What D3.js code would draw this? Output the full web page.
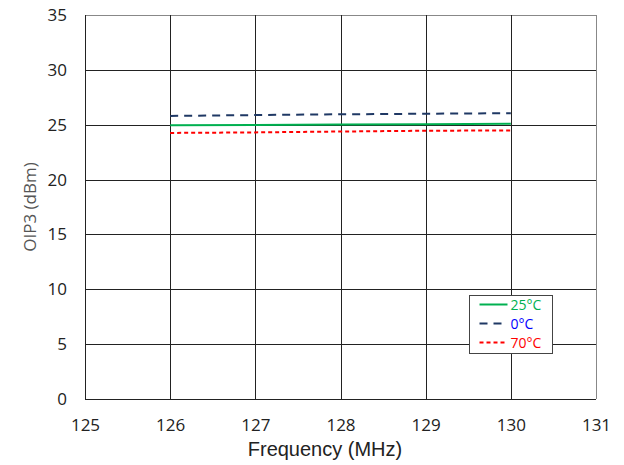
<!DOCTYPE html>
<html>
<head>
<meta charset="utf-8">
<script src="https://cdn.jsdelivr.net/npm/d3@7"></script>
<style>
  body { margin: 0; background: #fff; }
  text { font-family: "Open Sans", "Liberation Sans", sans-serif; }
</style>
</head>
<body>
<svg id="chart" width="624" height="465"></svg>
<script>
// data
const freqs = [126, 127, 128, 129, 130];
const oip3_25 = [24.95, 24.98, 25.02, 25.05, 25.08];
const oip3_0 = [25.8, 25.88, 25.95, 26.0, 26.05];
const oip3_70 = [24.25, 24.3, 24.38, 24.45, 24.48];
const xTicks = [125, 126, 127, 128, 129, 130, 131];
const yTicks = [0, 5, 10, 15, 20, 25, 30, 35];

const series = [
  { name: '25°C', values: oip3_25, color: '#00b050', text: '#00b050', dash: null },
  { name: '0°C', values: oip3_0, color: '#1f3864', text: '#0000ff', dash: '8,6' },
  { name: '70°C', values: oip3_70, color: '#ff0000', text: '#ff0000', dash: '4,3' }
];

//plot area
const margin = { top: 15, right: 28, bottom: 66, left: 85 },
  totalWidth = 624, totalHeight = 465,
  width = totalWidth - margin.left - margin.right,
  height = totalHeight - margin.top - margin.bottom;

const xScale = d3.scaleLinear().domain([125, 131]).range([0, width]);
const yScale = d3.scaleLinear().domain([0, 35]).range([height, 0]);

const svg = d3.select('#chart');
const g = svg.append('g').attr('transform', 'translate(' + margin.left + ',' + margin.top + ')');

//gridlines
g.append('g')
  .selectAll('line')
  .data(yTicks)
  .enter()
  .append('line')
  .attr('x1', 0).attr('x2', width)
  .attr('y1', (d) => Math.round(yScale(d)) + 0.5)
  .attr('y2', (d) => Math.round(yScale(d)) + 0.5)
  .attr('stroke', (d) => (d === 35 ? '#888' : '#222'))
  .attr('stroke-width', 1);

g.append('g')
  .selectAll('line')
  .data(xTicks)
  .enter()
  .append('line')
  .attr('y1', 0).attr('y2', height)
  .attr('x1', (d) => Math.round(xScale(d)) + 0.5)
  .attr('x2', (d) => Math.round(xScale(d)) + 0.5)
  .attr('stroke', (d) => (d === 131 ? '#888' : '#222'))
  .attr('stroke-width', 1);

//axes (labels only)
const xAxis = d3.axisBottom(xScale).tickValues(xTicks).tickFormat(d3.format('d')).tickSize(0).tickPadding(20);
const yAxis = d3.axisLeft(yScale).tickValues(yTicks).tickFormat(d3.format('d')).tickSize(0).tickPadding(18);

g.append('g')
  .attr('transform', 'translate(0,' + height + ')')
  .call(xAxis)
  .call((a) => a.select('.domain').remove())
  .selectAll('text')
  .style('font-size', '17px')
  .attr('fill', '#222');

g.append('g')
  .call(yAxis)
  .call((a) => a.select('.domain').remove())
  .selectAll('text')
  .style('font-size', '17px')
  .attr('fill', '#222');

//lines
const line = d3.line()
  .x((d, i) => xScale(freqs[i]))
  .y((d) => yScale(d));

series.forEach((s) => {
  g.append('path')
    .datum(s.values)
    .attr('fill', 'none')
    .attr('stroke', s.color)
    .attr('stroke-width', 2)
    .attr('stroke-dasharray', s.dash)
    .attr('d', line);
});

//axis titles
svg.append('text')
  .attr('x', 325)
  .attr('y', 456)
  .attr('text-anchor', 'middle')
  .style('font-family', '"Liberation Sans", Arial, sans-serif')
  .style('font-size', '20px')
  .attr('fill', '#222')
  .text('Frequency (MHz)');

svg.append('text')
  .attr('transform', 'translate(36,207) rotate(-90)')
  .attr('text-anchor', 'middle')
  .style('font-size', '17px')
  .attr('fill', '#555')
  .text('OIP3 (dBm)');

//legend
const legend = svg.append('g').attr('transform', 'translate(469.5,295.5)');
legend.append('rect')
  .attr('width', 83).attr('height', 58)
  .attr('fill', '#fff')
  .attr('stroke', '#444');

series.forEach((s, i) => {
  const y = 9 + i * 19;
  legend.append('line')
    .attr('x1', 10).attr('x2', 38)
    .attr('y1', y).attr('y2', y)
    .attr('stroke', s.color)
    .attr('stroke-width', 2)
    .attr('stroke-dasharray', s.dash);
  legend.append('text')
    .attr('x', 41)
    .attr('y', y + 5)
    .style('font-size', '14px')
    .attr('fill', s.text)
    .text(s.name);
});
</script>
</body>
</html>
